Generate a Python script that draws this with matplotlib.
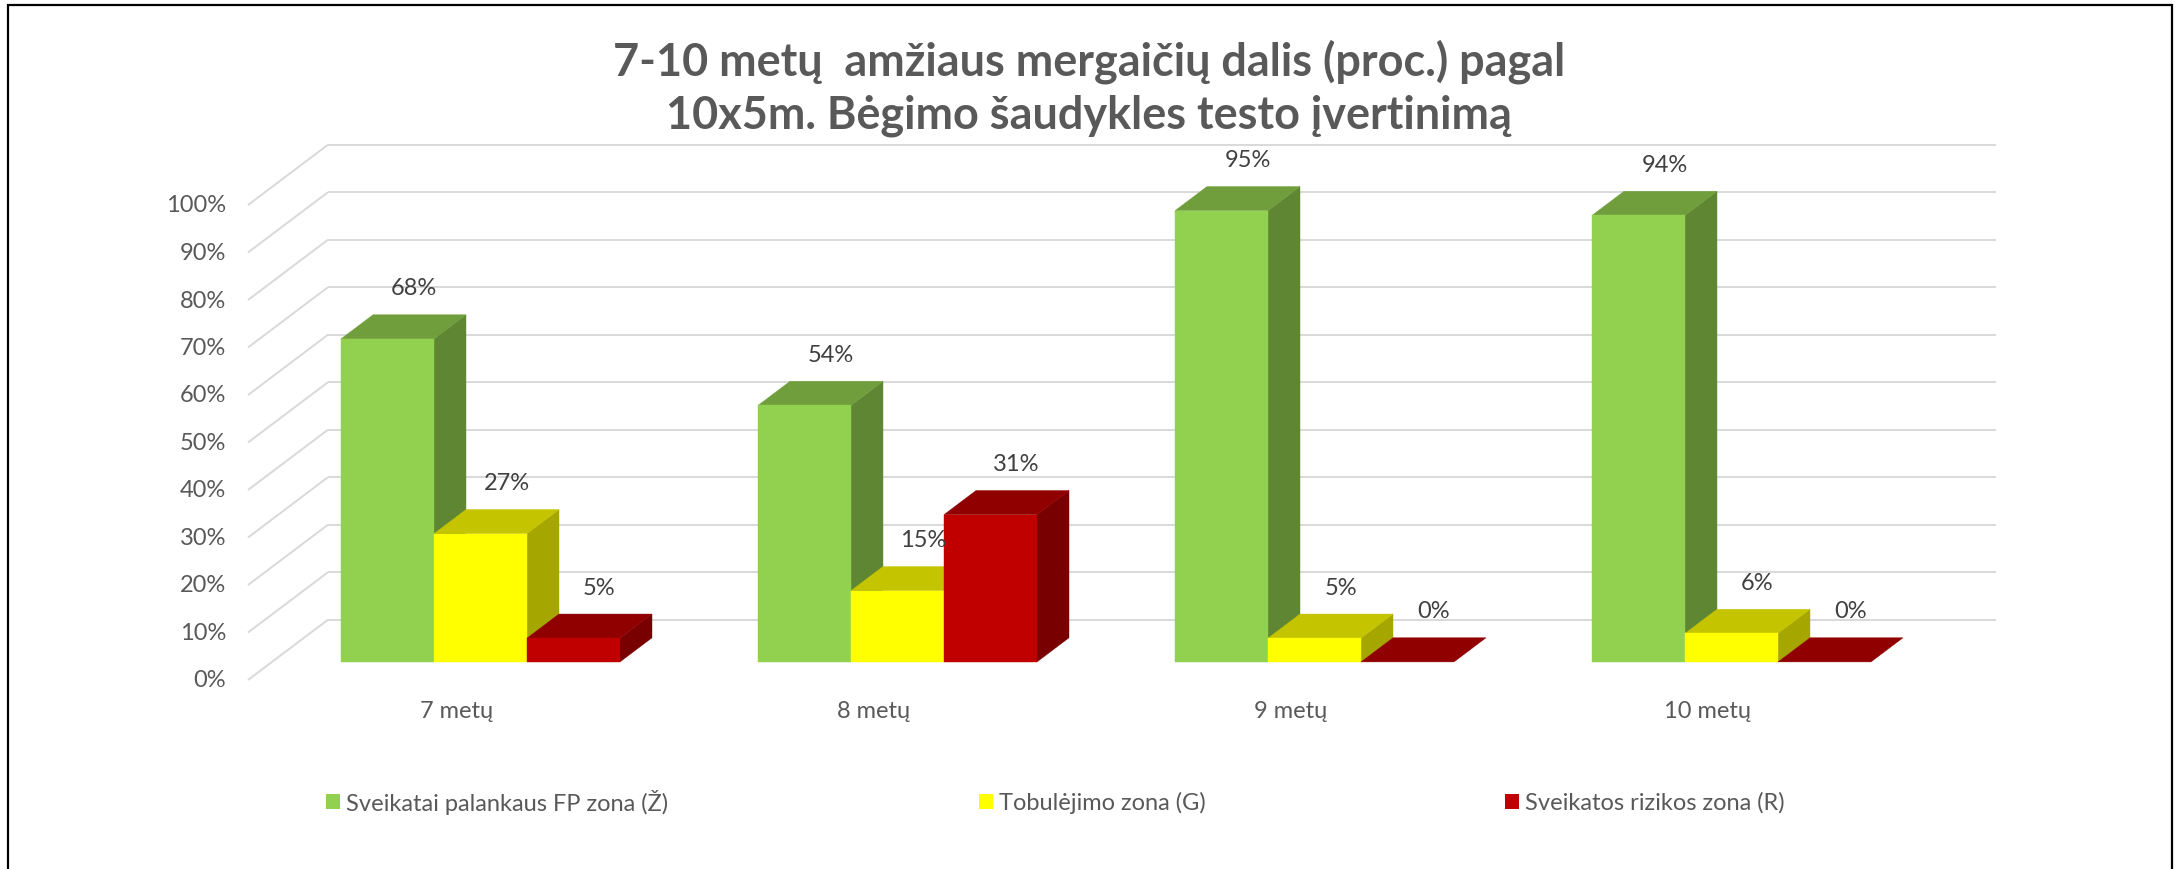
import matplotlib
matplotlib.use('Agg')
import matplotlib.pyplot as plt
from matplotlib.patches import Polygon, Rectangle

# ---------------- data ----------------
categories = ['7 metų', '8 metų', '9 metų', '10 metų']
series_names = ['Sveikatai palankaus FP zona (Ž)', 'Tobulėjimo zona (G)', 'Sveikatos rizikos zona (R)']
zalia = [68, 54, 95, 94]        # Sveikatai palankaus FP zona (Ž)
geltona = [27, 15, 5, 6]        # Tobulėjimo zona (G)
raudona = [5, 31, 0, 0]         # Sveikatos rizikos zona (R)
y_ticks = [0, 10, 20, 30, 40, 50, 60, 70, 80, 90, 100]
y_tick_labels = [f'{t}%' for t in y_ticks]
title_lines = ['7-10 metų  amžiaus mergaičių dalis (proc.) pagal',
               '10x5m. Bėgimo šaudykles testo įvertinimą']

series = [zalia, geltona, raudona]
colors = [  # front, top, side
    ('#92D050', '#709E3C', '#5F8632'),
    ('#FFFF00', '#C4C400', '#A6A600'),
    ('#C00000', '#900000', '#780000'),
]

FONT = ['Lato', 'DejaVu Sans']
plt.rcParams['font.family'] = FONT
FS = 17.0

W, H = 2175, 870
fig = plt.figure(figsize=(W / 100, H / 100), dpi=100)
fig.patch.set_facecolor('white')

# pixel geometry of the pseudo-3D plot area
X_LEFT = 248.0      # left edge of category -0.5 at front (depth 0)
CAT_PX = 417.0      # pixels per category
Y0 = 189.0          # 0% at front (pixels from bottom)
PPP = 4.75          # pixels per percent
DX = 80.0 / CAT_PX  # full-depth x offset (category units)
DY = 60.3 / PPP     # full-depth y offset (percent units)
BAR_W = 93.0 / CAT_PX
D_FRONT, D_BAR = 0.3, 0.4


def u(px):
    return -0.5 + (px - X_LEFT) / CAT_PX


def v(py):
    return (py - Y0) / PPP


ax = fig.add_axes([0, 0, 1, 1])
ax.set_xlim(u(0), u(W))
ax.set_ylim(v(0), v(H))
ax.axis('off')

GRID = '#D9D9D9'
n = len(categories)
for t, lab in zip(y_ticks, y_tick_labels):
    # side wall line
    ax.plot([-0.5, -0.5 + DX], [t, t + DY], color=GRID, lw=1.4, zorder=1,
            solid_capstyle='butt')
    # back wall line
    ax.plot([-0.5 + DX, n - 0.5 + DX], [t + DY, t + DY], color=GRID, lw=1.4,
            zorder=1, solid_capstyle='butt')
    ax.text(u(226), t, lab, ha='right', va='center', fontsize=FS,
            color='#595959')

z = 3
for i in range(n):
    for k, vals in enumerate(series):
        val = vals[i]
        fc, tc, sc = colors[k]
        xl = i + (k - 1) * BAR_W - BAR_W / 2 + D_FRONT * DX
        xr = xl + BAR_W
        b = D_FRONT * DY
        ddx, ddy = D_BAR * DX, D_BAR * DY
        # side face
        if val > 0:
            ax.add_patch(Polygon([(xr, b), (xr, b + val), (xr + ddx, b + val + ddy),
                                  (xr + ddx, b + ddy)], closed=True, fc=sc, ec=sc,
                                 lw=0.3, zorder=z))
        # top face
        ax.add_patch(Polygon([(xl, b + val), (xr, b + val), (xr + ddx, b + val + ddy),
                              (xl + ddx, b + val + ddy)], closed=True, fc=tc, ec=tc,
                             lw=0.3, zorder=z))
        # front face
        if val > 0:
            ax.bar(xl, val, width=BAR_W, bottom=b, align='edge', color=fc,
                   edgecolor=fc, linewidth=0.3, zorder=z)
        z += 1
        # data label
        ax.text(xl + BAR_W / 2 + 26 / CAT_PX, b + val + ddy + 27 / PPP, f'{val}%',
                ha='center', va='center', fontsize=FS, color='#404040', zorder=50)

for i, c in enumerate(categories):
    ax.text(i, v(H - 711.7), c, ha='center', va='center', fontsize=FS,
            color='#595959')

# title
fig.text(1089 / W, 1 - 62 / H, title_lines[0], ha='center', va='center',
         fontsize=32.4, fontweight='bold', color='#595959')
fig.text(1089 / W, 1 - 116 / H, title_lines[1], ha='center', va='center',
         fontsize=32.4, fontweight='bold', color='#595959')

# legend (manual)
leg_x = [326, 979, 1505]
for xk, name, col in zip(leg_x, series_names, colors):
    fig.add_artist(Rectangle((xk / W, 1 - 810 / H), 14 / W, 15 / H,
                             transform=fig.transFigure, fc=col[0], ec='none'))
    fig.text((xk + 20) / W, 1 - 803 / H, name, ha='left', va='center',
             fontsize=FS, color='#595959')

# outer frame
fig.add_artist(Rectangle((8 / W, -0.02), (2172 - 8) / W, 1.02 - 5.5 / H,
                         transform=fig.transFigure, fill=False, ec='black', lw=1.6))

fig.savefig('out.png', dpi=100, facecolor='white')
